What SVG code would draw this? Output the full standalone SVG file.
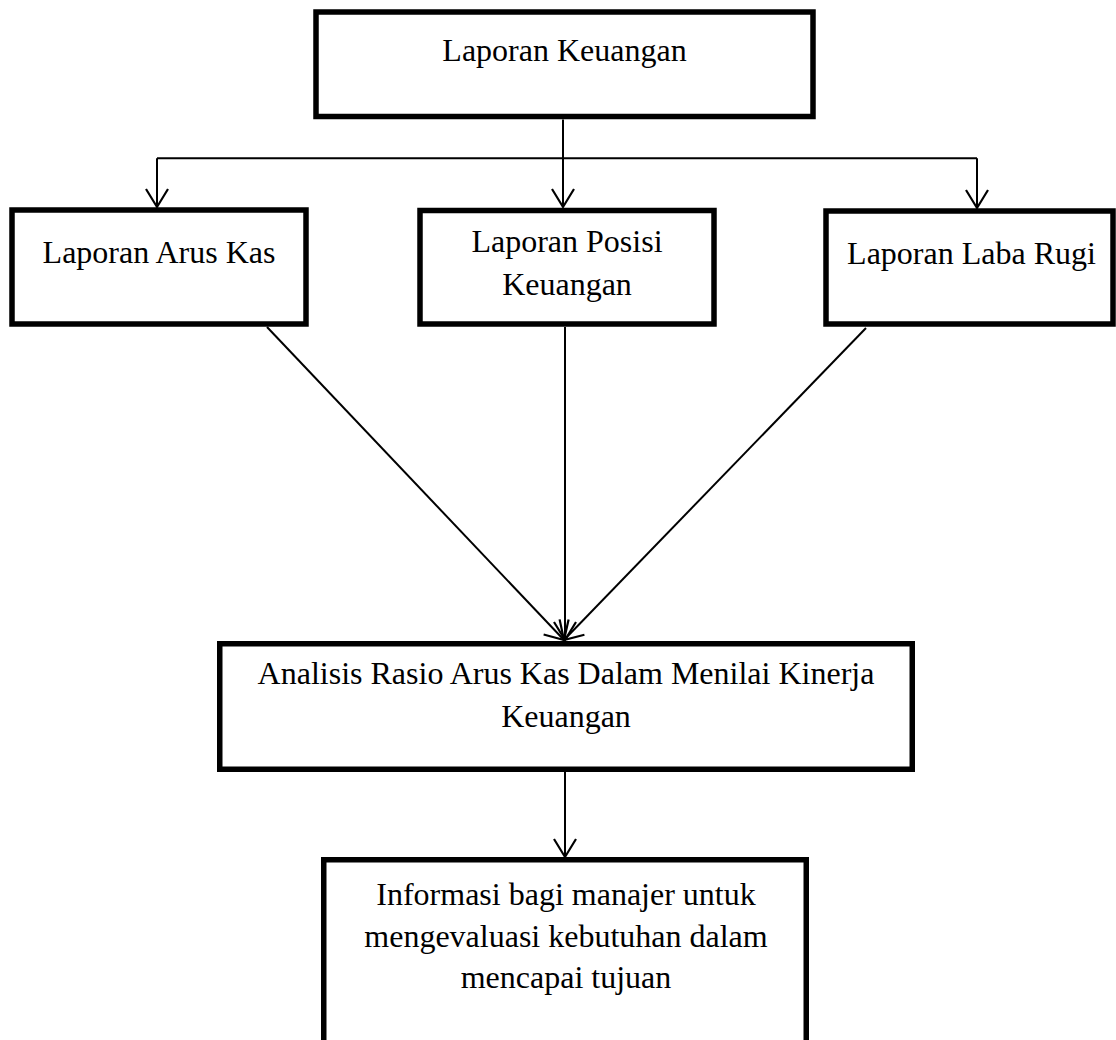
<svg xmlns="http://www.w3.org/2000/svg" width="1116" height="1040" viewBox="0 0 1116 1040">
<style>
.box{fill:#fff;stroke:#000;stroke-width:5.5}
.lbl{font-family:"Liberation Serif","Times New Roman",serif;font-size:32px;fill:#000;text-anchor:middle}
.con{fill:none;stroke:#000;stroke-width:2}
.arr{marker-end:url(#ah)}
</style>
<defs>
<marker id="ah" markerUnits="userSpaceOnUse" viewBox="-20 -12 22 24" markerWidth="22" markerHeight="24" refX="0" refY="0" orient="auto" overflow="visible">
<path d="M -18 -11 L 0 0 L -18 11" fill="none" stroke="#000" stroke-width="2.2"/>
</marker>
</defs>
<rect width="1116" height="1040" fill="#fff"/>
<g id="n-laporan-keuangan">
<rect class="box" x="316" y="12" width="497" height="104.5"/>
<text class="lbl" x="564.5" y="61">Laporan Keuangan</text>
</g>
<g id="n-arus-kas">
<rect class="box" x="12" y="210" width="294" height="114"/>
<text class="lbl" x="159" y="263">Laporan Arus Kas</text>
</g>
<g id="n-posisi-keuangan">
<rect class="box" x="420" y="210.5" width="294" height="113.5"/>
<text class="lbl" x="567" y="252">Laporan Posisi</text>
<text class="lbl" x="567" y="295">Keuangan</text>
</g>
<g id="n-laba-rugi">
<rect class="box" x="826" y="211" width="287" height="113"/>
<text class="lbl" x="971.5" y="264">Laporan Laba Rugi</text>
</g>
<g id="n-analisis">
<rect class="box" x="219.75" y="643.75" width="692.5" height="125.5"/>
<text class="lbl" x="566" y="684">Analisis Rasio Arus Kas Dalam Menilai Kinerja</text>
<text class="lbl" x="566" y="727">Keuangan</text>
</g>
<g id="n-informasi">
<rect class="box" x="323.75" y="859.75" width="482.5" height="200"/>
<text class="lbl" x="566" y="905">Informasi bagi manajer untuk</text>
<text class="lbl" x="566" y="946.5">mengevaluasi kebutuhan dalam</text>
<text class="lbl" x="566" y="988">mencapai tujuan</text>
</g>
<g id="connectors">
<path class="con" d="M157 158.3 H977"/>
<path class="con arr" d="M563 119.5 V207"/>
<path class="con arr" d="M157 158.3 V207"/>
<path class="con arr" d="M977 158.3 V208"/>
<path class="con arr" d="M267 327 L564 640"/>
<path class="con arr" d="M565 327 V640"/>
<path class="con arr" d="M866 328 L564 640"/>
<path class="con arr" d="M565 772 V857"/>
</g>
</svg>
